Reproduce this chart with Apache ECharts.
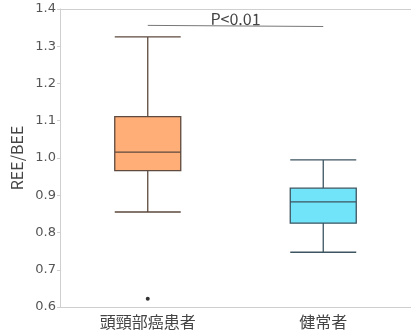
<!DOCTYPE html>
<html><head><meta charset="utf-8">
<script src="https://cdn.jsdelivr.net/npm/echarts@6/dist/echarts.min.js"></script>
<style>html,body{margin:0;padding:0;background:#fff}#c{width:411px;height:335px}</style>
</head><body><div id="c"></div>
<script>
const categories = ['頭頸部癌患者', '健常者'];
// [lowerWhisker, Q1, median, Q3, upperWhisker]
const boxValues = [
  [0.855, 0.966, 1.016, 1.111, 1.325],
  [0.747, 0.825, 0.882, 0.919, 0.995]
];
const outliers = [['頭頸部癌患者', 0.622]];
const boxColors = ['#FFAE78', '#72E4FA'];
const boxBorders = ['#5e4a3e', '#3c5560'];
const yTicks = { min: 0.6, max: 1.4, interval: 0.1 };
const pText = 'P<0.01';
const pLineY = [1.356, 1.353];

const chart = echarts.init(document.getElementById('c'), null, {renderer: 'canvas'});
chart.setOption({
  animation: false,
  grid: { left: 60, top: 9, width: 354, height: 298, show: false },
  xAxis: {
    type: 'category', data: categories,
    axisLine: { lineStyle: { color: '#cfcfcf', width: 1 } },
    axisTick: { show: false },
    axisLabel: { color: '#444', fontSize: 16, fontFamily: 'Noto Sans CJK JP', margin: 7 },
    splitLine: { show: false }
  },
  yAxis: {
    type: 'value', min: yTicks.min, max: yTicks.max, interval: yTicks.interval,
    name: 'REE/BEE', nameLocation: 'middle', nameGap: 35,
    nameTextStyle: { color: '#444', fontSize: 16, fontFamily: 'Noto Sans CJK JP' },
    axisLine: { show: true, lineStyle: { color: '#cfcfcf' } },
    axisTick: { show: true, length: 3, lineStyle: { color: '#cfcfcf' } },
    axisLabel: { color: '#555', fontSize: 13, fontFamily: 'DejaVu Sans', margin: 4,
      formatter: v => v.toFixed(1) },
    splitLine: { show: false }
  },
  series: [
    {
      type: 'boxplot',
      boxWidth: [66, 66],
      data: boxValues.map((v, i) => ({
        value: v,
        itemStyle: { color: boxColors[i], borderColor: boxBorders[i], borderWidth: 1.3 }
      })),
      markLine: {
        symbol: 'none', silent: true,
        lineStyle: { color: '#777', width: 1, type: 'solid' },
        label: { show: true, position: 'middle', formatter: pText, color: '#444',
          fontSize: 16, fontFamily: 'Noto Sans CJK JP', distance: -1 },
        data: [[{ coord: [categories[0], pLineY[0]] }, { coord: [categories[1], pLineY[1]] }]]
      }
    },
    {
      type: 'scatter', data: outliers, symbolSize: 4,
      itemStyle: { color: '#000' }
    },
    {
      type: 'line', data: [], markLine: {
        symbol: 'none', silent: true, label: { show: false },
        lineStyle: { color: '#cfcfcf', width: 1, type: 'solid' },
        data: [{ yAxis: yTicks.max }]
      }
    }
  ]
});
</script></body></html>
